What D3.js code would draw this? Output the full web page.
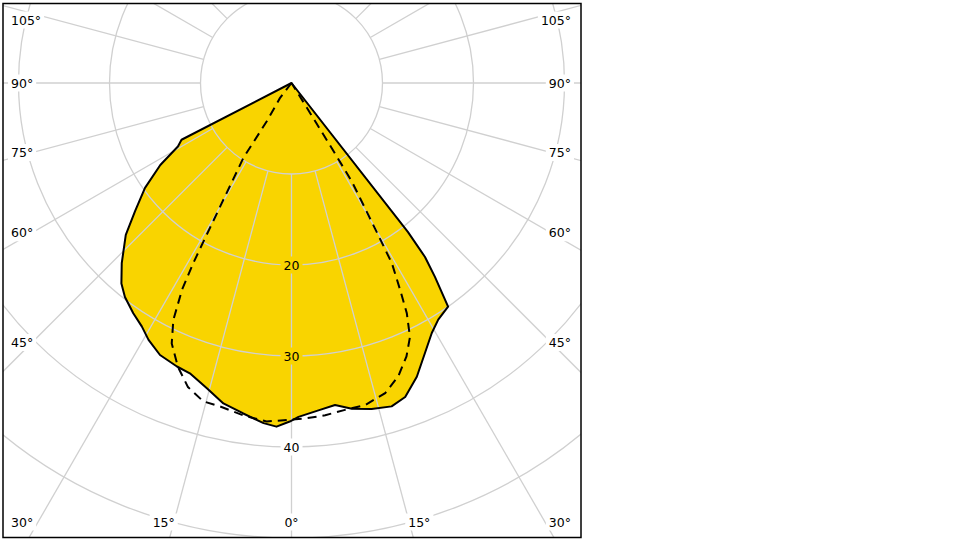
<!DOCTYPE html>
<html><head><meta charset="utf-8">
<script src="https://cdn.jsdelivr.net/npm/d3@7"></script>
<style>body{margin:0;background:#fff}svg{display:block}</style>
</head><body>
<svg id="c" width="960" height="540"></svg>
<script>
// ---- data (gamma angle in degrees from nadir, + to the right; intensity values) ----
const solidAngles = [-65, -62.7, -60.8, -58, -54.4, -50.7, -47.5, -43.3, -40.3, -37.9, -34.5, -31.6, -29.1, -25.8, -22, -19.3, -15.5, -12, -8.3, -4.7, -2.5, -0.3, 1.2, 4.7, 7.7, 10.5, 13.8, 17.2, 19.9, 23.1, 26.3, 29.3, 31.8, 35, 36.5, 37.5, 38, 40];
const solidValues = [0, 13.6, 14.3, 17.0, 19.8, 22.2, 24.7, 27.2, 28.9, 29.8, 30.7, 31.4, 32.3, 33.2, 33.6, 33.8, 34.8, 36.0, 36.7, 37.5, 37.8, 37.2, 36.7, 36.1, 35.7, 36.4, 36.9, 37.2, 36.7, 35.1, 33.1, 31.5, 30.6, 30.0, 26.5, 24.1, 20.8, 0];
const dashedAngles = [-40, -37.5, -32.9, -32.7, -29.2, -28.6, -27.9, -26.5, -24.7, -21.8, -18.8, -15.5, -12.5, -8.3, -4.2, -0.3, 2.3, 5.8, 9.3, 12.9, 16.8, 20, 22.8, 25, 26.6, 27.7, 29.1, 29.7, 31.5, 31.7, 31.9, 32];
const dashedValues = [0, 2.1, 5.0, 9.8, 19.1, 22.6, 25.7, 29.1, 31.5, 33.6, 35.3, 36.3, 36.4, 36.9, 37.3, 37.0, 36.9, 36.7, 36.4, 36.3, 35.6, 34.3, 32.6, 30.8, 28.3, 25.7, 22.7, 19.2, 12.7, 8.4, 2.8, 0];
const ringValues = [10, 20, 30, 40, 50, 60];
const ringLabels = ["20", "30", "40"];
const spokeAngles = d3.range(0, 360, 15);
const angleLabels = [0, 15, 30, 45, 60, 75, 90, 105];

// ---- layout ----
const frame = {x: 3, y: 3.5, w: 578, h: 534};
const cx = 291.5, cy = 83;
const r = d3.scaleLinear().domain([0, 10]).range([0, 91]);
const rad = d => d * Math.PI / 180;

const svg = d3.select("#c");
const defs = svg.append("defs");
defs.append("clipPath").attr("id", "frameClip").append("rect")
  .attr("x", frame.x - cx).attr("y", frame.y - cy).attr("width", frame.w).attr("height", frame.h);

const g = svg.append("g").attr("transform", `translate(${cx},${cy})`);
const root = g.append("g").attr("clip-path", "url(#frameClip)");

const line = d3.lineRadial()
  .angle(d => Math.PI - rad(d[0]))
  .radius(d => r(d[1]))
  .curve(d3.curveLinear);

const solid = solidAngles.map((a, i) => [a, solidValues[i]]);
const dashed = dashedAngles.map((a, i) => [a, dashedValues[i]]);

// fill
root.append("path").attr("d", line(solid) + "Z").attr("fill", "#f9d400").attr("stroke", "none");

// grid (masked around labels)
const grid = root.append("g").attr("mask", "url(#labelMask)")
  .attr("stroke", "#d0d0d0").attr("stroke-width", 1.3).attr("fill", "none");
grid.selectAll("circle").data(ringValues).join("circle").attr("r", d => r(d));
grid.selectAll("line").data(spokeAngles).join("line")
  .attr("x1", d => r(10) * Math.sin(rad(d))).attr("y1", d => r(10) * Math.cos(rad(d)))
  .attr("x2", d => r(70) * Math.sin(rad(d))).attr("y2", d => r(70) * Math.cos(rad(d)));

// curves
root.append("path").attr("d", line(solid) + "Z").attr("fill", "none")
  .attr("stroke", "#000").attr("stroke-width", 2).attr("stroke-linejoin", "round");
root.append("path").attr("d", line(dashed)).attr("fill", "none")
  .attr("stroke", "#000").attr("stroke-width", 2).attr("stroke-dasharray", "9,6");

// labels
const lab = g.append("g").attr("font-family", "DejaVu Sans, Verdana, sans-serif")
  .attr("font-size", 12.5).attr("fill", "#000");
const labels = [];
ringLabels.forEach(t => {
  labels.push({text: t, x: 0, y: r(+t), anchor: "middle", clamp: false});
});
const sideDx = 259.5, bottomDy = 477;
const leftX = 11 - cx, rightX = 571 - cx;
angleLabels.forEach(a => {
  const sides = a === 0 ? [1] : [-1, 1];
  sides.forEach(s => {
    if (a <= 30) {
      const x = s * bottomDy * Math.tan(rad(a));
      labels.push({text: a + "°", x: x, y: 522 - cy, anchor: "middle", clamp: true});
    } else {
      let y = sideDx / Math.tan(rad(a));
      y = Math.max(20 - cy, y);
      labels.push({text: a + "°", x: s < 0 ? leftX : rightX, y: y, anchor: s < 0 ? "start" : "end", clamp: false});
    }
  });
});
const texts = lab.selectAll("text").data(labels).join("text")
  .attr("x", d => d.x).attr("y", d => d.y).attr("text-anchor", d => d.anchor)
  .attr("dominant-baseline", "central").text(d => d.text);
// keep bottom labels inside the frame margins
texts.filter(d => d.clamp).each(function(d) {
  const w = this.getComputedTextLength();
  const x = Math.max(leftX + w / 2, Math.min(rightX - w / 2, d.x));
  d3.select(this).attr("x", x);
});

// mask for grid gaps
const mask = defs.append("mask").attr("id", "labelMask").attr("maskUnits", "userSpaceOnUse")
  .attr("x", -1000).attr("y", -1000).attr("width", 3000).attr("height", 3000);
mask.append("rect").attr("x", -1000).attr("y", -1000).attr("width", 3000).attr("height", 3000).attr("fill", "#fff");
texts.each(function() {
  const b = this.getBBox();
  mask.append("rect").attr("x", b.x - 3).attr("y", b.y - 1).attr("width", b.width + 6).attr("height", b.height + 2).attr("fill", "#000");
});

// frame
svg.append("rect").attr("x", frame.x).attr("y", frame.y).attr("width", frame.w).attr("height", frame.h)
  .attr("fill", "none").attr("stroke", "#000").attr("stroke-width", 1.5);
</script>
</body></html>
